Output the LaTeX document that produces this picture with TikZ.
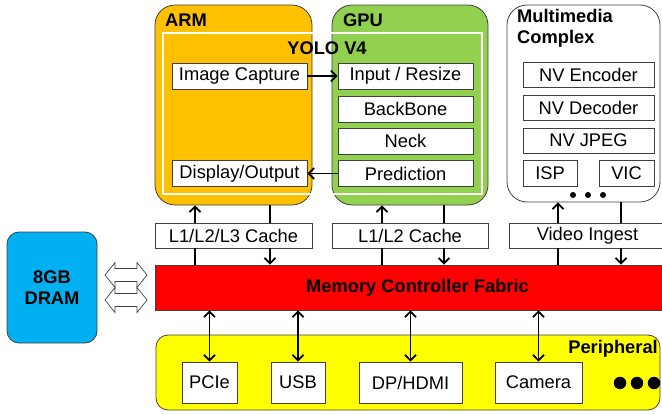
\documentclass[tikz,border=0pt]{standalone}
\usepackage{fontspec}
\setmainfont{Liberation Sans}
\usetikzlibrary{arrows.meta}
\definecolor{armc}{HTML}{FFC000}
\definecolor{gpuc}{HTML}{92D050}
\definecolor{memc}{HTML}{FF0000}
\definecolor{perc}{HTML}{FFFF00}
\definecolor{dramc}{HTML}{00B0F0}
\definecolor{edge}{HTML}{404040}
\tikzset{
  txt/.style={font=\fontsize{18.3}{21}\selectfont},
  btxt/.style={font=\fontsize{18.3}{21}\selectfont\bfseries},
  box/.style={draw=edge, line width=0.8pt, fill=white, inner sep=0pt, txt},
  cont/.style={draw=edge, line width=0.8pt, rounded corners=20pt, inner sep=0pt},
  tip/.style={},
  arr/.style={line width=1.8pt, -{Straight Barb[length=5.5pt,width=11pt]}},
  darr/.style={line width=1.8pt, {Straight Barb[length=5.5pt,width=11pt]}-{Straight Barb[length=5.5pt,width=11pt]}},
  ln/.style={line width=1.8pt},
  hollow/.style={draw=edge, line width=0.7pt, fill=white, line join=miter},
  dot/.style={circle, fill=black, inner sep=0pt}
}
\begin{document}
\begin{tikzpicture}[x=1pt,y=-1pt]
\useasboundingbox (0,0) rectangle (662,415);
\clip (0,0) rectangle (662,415);
% containers
\node[cont, fill=armc, minimum width=157, minimum height=200] (arm) at (233.5,105) {};
\node[cont, fill=gpuc, minimum width=156, minimum height=200] (gpu) at (410,105) {};
\node[cont, fill=white, minimum width=153, minimum height=197] (mm) at (583.5,103.5) {};
\node[btxt, anchor=west, inner sep=0pt] (armlbl) at (165,20) {ARM};
\node[btxt, anchor=west, inner sep=0pt] (gpulbl) at (343,20) {GPU};
\node[btxt, anchor=north west, align=left, inner sep=0pt] (mmlbl) at (517,9) {Multimedia\\Complex};
% YOLO frame
\node[draw=white, line width=2pt, minimum width=319, minimum height=161, inner sep=0pt] (yolo) at (322.5,113.5) {};
\node[btxt, inner sep=0pt] (yololbl) at (327,48) {YOLO V4};
% ARM boxes
\node[box, minimum width=135, minimum height=26] (cap) at (239.5,76) {Image Capture};
\node[box, minimum width=135, minimum height=26] (disp) at (239.5,173.5) {Display/Output};
% GPU boxes
\node[box, minimum width=135, minimum height=26] (inp) at (405.5,76) {Input / Resize};
\node[box, minimum width=135, minimum height=26] (bb) at (405.5,109) {BackBone};
\node[box, minimum width=135, minimum height=26] (neck) at (405.5,141) {Neck};
\node[box, minimum width=135, minimum height=26] (pred) at (405.5,173.5) {Prediction};
% MM boxes
\node[box, minimum width=131, minimum height=25] (enc) at (588.5,75) {NV Encoder};
\node[box, minimum width=131, minimum height=25] (dec) at (588.5,108) {NV Decoder};
\node[box, minimum width=131, minimum height=25] (jpeg) at (588.5,140.5) {NV JPEG};
\node[box, minimum width=54, minimum height=26] (isp) at (550,173) {ISP};
\node[box, minimum width=55, minimum height=26] (vic) at (626.5,173) {VIC};
\node[dot, minimum size=6] (md1) at (573,195) {};
\node[dot, minimum size=6] (md2) at (588,195) {};
\node[dot, minimum size=6] (md3) at (603,195) {};
% caches
\node[box, minimum width=157, minimum height=25] (l3) at (233.5,235.5) {L1/L2/L3 Cache};
\node[box, minimum width=156, minimum height=25] (l2) at (410,235.5) {L1/L2 Cache};
\node[box, minimum width=157, minimum height=25] (vi) at (587.5,235.5) {Video Ingest};
% memory
\node[draw=edge, line width=0.8pt, fill=memc, minimum width=525, minimum height=45, inner sep=0pt, btxt] (mem) at (417.5,287.5) {Memory Controller Fabric};
% DRAM
\node[draw=edge, line width=0.8pt, fill=dramc, rounded corners=12pt, minimum width=90, minimum height=111, inner sep=0pt, btxt, align=center] (dram) at (52,287.5) {8GB\\DRAM};
% hollow double arrows
\foreach \c in {275,300}{
  \draw[hollow] (105,\c) -- (115,\c-12.5) -- (115,\c-6.5) -- (137,\c-6.5) -- (137,\c-12.5) -- (147,\c) -- (137,\c+12.5) -- (137,\c+6.5) -- (115,\c+6.5) -- (115,\c+12.5) -- cycle;
}
% peripheral
\node[draw=edge, line width=0.8pt, fill=perc, rounded corners=12pt, minimum width=504, minimum height=75, inner sep=0pt] (per) at (408,372.5) {};
\node[btxt, anchor=east, inner sep=0pt] (perlbl) at (658,349) {Peripheral};
\node[box, minimum width=55, minimum height=41] (pcie) at (209.5,382.5) {PCIe};
\node[box, minimum width=54, minimum height=41] (usb) at (298,382.5) {USB};
\node[box, minimum width=103, minimum height=41] (dp) at (410.5,382.5) {DP/HDMI};
\node[box, minimum width=87, minimum height=41] (cam) at (538.5,382.5) {Camera};
\node[dot, minimum size=12.5] (pd1) at (620,383) {};
\node[dot, minimum size=12.5] (pd2) at (637,383) {};
\node[dot, minimum size=12.5] (pd3) at (654,383) {};
% connectors inside
\draw[arr] (cap.east) -- (inp.west);
\draw[arr] (pred.west) -- (disp.east);
% ARM cache
\draw[arr] (l3.north -| 195,0) -- (arm.south -| 195,0);
\draw[ln] (mem.north -| 195,0) -- (l3.south -| 195,0);
\draw[ln] (arm.south -| 270,0) -- (l3.north -| 270,0);
\draw[arr] (l3.south -| 270,0) -- (mem.north -| 270,0);
% GPU cache
\draw[arr] (l2.north -| 382,0) -- (gpu.south -| 382,0);
\draw[ln] (mem.north -| 382,0) -- (l2.south -| 382,0);
\draw[ln] (gpu.south -| 444,0) -- (l2.north -| 444,0);
\draw[arr] (l2.south -| 444,0) -- (mem.north -| 444,0);
% MM ingest
\draw[arr] (vi.north -| 558,0) -- (mm.south -| 558,0);
\draw[ln] (mem.north -| 558,0) -- (vi.south -| 558,0);
\draw[ln] (mm.south -| 621,0) -- (vi.north -| 621,0);
\draw[arr] (vi.south -| 621,0) -- (mem.north -| 621,0);
% peripherals
\draw[darr] (mem.south -| pcie) -- (pcie.north);
\draw[darr] (mem.south -| usb) -- (usb.north);
\draw[darr] (mem.south -| dp) -- (dp.north);
\draw[darr] (mem.south -| cam) -- (cam.north);
\end{tikzpicture}
\end{document}
